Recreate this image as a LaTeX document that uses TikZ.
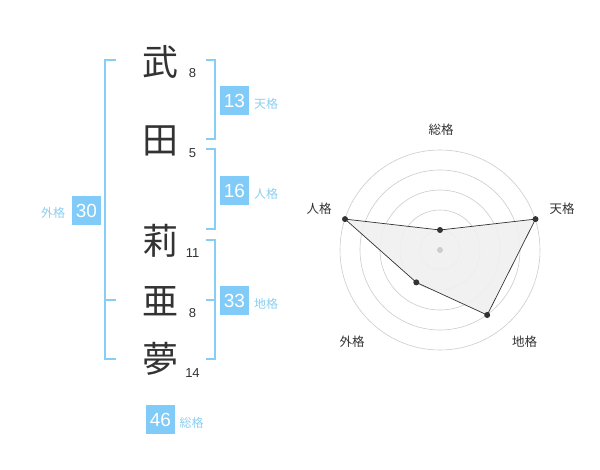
\documentclass[tikz,border=0pt]{standalone}
\usepackage{fontspec}
\setmainfont{Liberation Sans}
\newfontfamily\cjk{Noto Sans CJK JP}
\definecolor{barc}{HTML}{86CEF7}
\definecolor{boxc}{HTML}{80CBF8}
\definecolor{labc}{HTML}{8CCFF2}
\definecolor{ink}{HTML}{333333}
\definecolor{ringc}{HTML}{CCCCCC}
\definecolor{polyc}{HTML}{F0F0F0}
\tikzset{
 bar/.style={draw=barc, line width=1.6pt},
 scorebox/.style={fill=boxc, text=white, minimum size=29pt, inner sep=0pt, font=\fontsize{19}{19}\selectfont},
 kaku/.style={text=labc, font=\cjk\fontsize{12}{12}\selectfont, inner sep=0pt},
 kanji/.style={text=ink, font=\cjk\fontsize{36}{36}\selectfont, inner sep=0pt},
 strokes/.style={text=ink, font=\fontsize{13}{13}\selectfont, inner sep=0pt},
 ring/.style={draw=ringc, line width=0.6pt},
 rlabel/.style={text=ink, font=\cjk\fontsize{12.5}{12.5}\selectfont, inner sep=0pt},
 dot/.style={circle, fill=ink, inner sep=0pt, minimum size=6pt}
}
\begin{document}
\begin{tikzpicture}[x=1pt,y=-1pt]
\useasboundingbox[fill=white] (0,0) rectangle (600,470);
% kanji
\node[kanji] (k1) at (160,62) {武};
\node[kanji] (k2) at (160,141) {田};
\node[kanji] (k3) at (160,241) {莉};
\node[kanji] (k4) at (160,301) {亜};
\node[kanji] (k5) at (160,359) {夢};
% stroke counts
\node[strokes] (s1) at (192.5,72.7) {8};
\node[strokes] (s2) at (192.5,152.7) {5};
\node[strokes] (s3) at (192.5,253.3) {11};
\node[strokes] (s4) at (192.5,313.3) {8};
\node[strokes] (s5) at (192.5,373.3) {14};
% brackets
\draw[bar] (116,60) -- (105,60) -- (105,359) -- (116,359);
\draw[bar] (105,300) -- (116,300);
\draw[bar] (206,60) -- (215,60) -- (215,139) -- (206,139);
\draw[bar] (206,149) -- (215,149) -- (215,229) -- (206,229);
\draw[bar] (206,240) -- (215,240) -- (215,359) -- (206,359);
\draw[bar] (206,300) -- (215,300);
% score boxes
\node[scorebox] (b13) at (234.5,100.5) {13};
\node[kaku] (l13) at (266,104) {天格};
\node[scorebox] (b16) at (234.5,190.5) {16};
\node[kaku] (l16) at (266,194) {人格};
\node[scorebox] (b30) at (86.5,210.5) {30};
\node[kaku] (l30) at (53,213) {外格};
\node[scorebox] (b33) at (234.5,300.5) {33};
\node[kaku] (l33) at (266,304) {地格};
\node[scorebox] (b46) at (160.5,419.5) {46};
\node[kaku] (l46) at (191.7,423.3) {総格};
% radar
\coordinate (C) at (440,250);
\foreach \r in {20,40,60,80,100} \draw[ring] (C) circle[radius=\r];
\coordinate (pS) at (440,230);
\coordinate (pT) at (535.5,219.1);
\coordinate (pC) at (487.2,315);
\coordinate (pG) at (416.3,282.4);
\coordinate (pJ) at (345,219.1);
\fill[polyc, opacity=0.9] (pS) -- (pT) -- (pC) -- (pG) -- (pJ) -- cycle;
\draw[ink, line width=0.7pt] (pS) -- (pT) -- (pC) -- (pG) -- (pJ) -- cycle;
\node[circle, fill=ringc, inner sep=0pt, minimum size=6pt] (cen) at (C) {};
\node[dot] (dS) at (pS) {};
\node[dot] (dT) at (pT) {};
\node[dot] (dC) at (pC) {};
\node[dot] (dG) at (pG) {};
\node[dot] (dJ) at (pJ) {};
\node[rlabel] (rS) at (441,130) {総格};
\node[rlabel] (rT) at (562,208.3) {天格};
\node[rlabel] (rJ) at (319.2,208.3) {人格};
\node[rlabel] (rG) at (352,341.7) {外格};
\node[rlabel] (rC) at (524.5,341.7) {地格};
\end{tikzpicture}
\end{document}
